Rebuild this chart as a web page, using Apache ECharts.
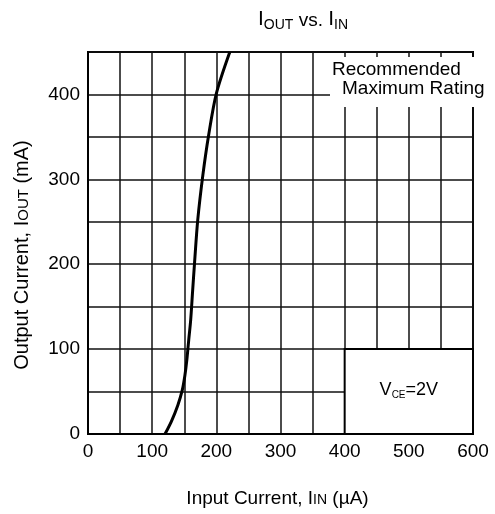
<!DOCTYPE html>
<html><head><meta charset="utf-8">
<script src="https://cdn.jsdelivr.net/npm/echarts@6/dist/echarts.min.js"></script>
<style>html,body{margin:0;padding:0;background:#fff}#c{width:495px;height:514px}</style>
</head><body><div id="c"></div>
<script>
// Data
const inputCurrent = [120, 130, 140, 147, 151, 154, 157, 160, 163, 166, 171, 179, 188, 200, 221];   // µA
const outputCurrent = [0, 15, 34, 52, 69, 87, 111, 134, 168, 201, 252, 305, 352, 401, 450];        // mA
const xTickLabels = [0, 100, 200, 300, 400, 500, 600];
const yTickLabels = [0, 100, 200, 300, 400];
const conditionBox = [400, 0, 600, 100]; // x1, y1, x2, y2 in data units

const FONT = 'Liberation Sans, Arial, sans-serif';
const chart = echarts.init(document.getElementById('c'), null, {renderer: 'canvas'});
const points = inputCurrent.map((x, i) => [x, outputCurrent[i]]);

chart.setOption({
  animation: false,
  backgroundColor: '#fff',
  title: {
    text: '{m|I}{s|OUT}{v| vs. }{m|I}{s|IN}',
    left: 253, top: 6,
    textStyle: {
      fontWeight: 'normal',
      rich: {
        m: {fontFamily: FONT, fontSize: 21, fontWeight: 'normal', color: '#000', verticalAlign: 'bottom', lineHeight: 21, padding: [0,0,2,0]},
        v: {fontFamily: FONT, fontSize: 19, fontWeight: 'normal', color: '#000', verticalAlign: 'bottom', lineHeight: 19, padding: [0,0,2,0]},
        s: {fontFamily: FONT, fontSize: 14, fontWeight: 'normal', color: '#000', verticalAlign: 'bottom', lineHeight: 14}
      }
    }
  },
  grid: {left: 88, right: 22, top: 52, bottom: 80, show: true, borderColor: '#000', borderWidth: 2, backgroundColor: 'transparent'},
  xAxis: {
    type: 'value', min: 0, max: 600, interval: 50,
    axisLine: {show: true, lineStyle: {color: '#000', width: 2}},
    axisTick: {show: false},
    splitLine: {show: true, lineStyle: {color: '#111', width: 1.5}},
    axisLabel: {
      color: '#000', fontFamily: FONT, fontSize: 19, margin: 8,
      formatter: v => xTickLabels.indexOf(v) >= 0 ? String(v) : ''
    },
    name: '{n|Input Current, I}{s|IN}{n| (µA)}',
    nameLocation: 'middle', nameGap: 55,
    nameTextStyle: {
      padding: [0, 6, 0, 0],
      rich: {
        n: {fontFamily: FONT, fontSize: 19, color: '#000', verticalAlign: 'bottom', lineHeight: 19},
        s: {fontFamily: FONT, fontSize: 14, color: '#000', verticalAlign: 'bottom', lineHeight: 14, padding: [0,0,1,0]}
      }
    }
  },
  yAxis: {
    type: 'value', min: 0, max: 450, interval: 50,
    axisLine: {show: true, lineStyle: {color: '#000', width: 2}},
    axisTick: {show: false},
    splitLine: {show: true, lineStyle: {color: '#111', width: 1.5}},
    axisLabel: {
      color: '#000', fontFamily: FONT, fontSize: 19, margin: 8,
      formatter: v => yTickLabels.indexOf(v) >= 0 ? String(v) : ''
    },
    name: '{n|Output Current, I}{s|OUT}{n| (mA)}',
    nameLocation: 'middle', nameGap: 56,
    nameTextStyle: {
      padding: [0, 24, 0, 0],
      rich: {
        n: {fontFamily: FONT, fontSize: 20, color: '#000', verticalAlign: 'bottom', lineHeight: 20},
        s: {fontFamily: FONT, fontSize: 15, color: '#000', verticalAlign: 'bottom', lineHeight: 15, padding: [0,0,1,0]}
      }
    }
  },
  series: [{
    type: 'line',
    data: points,
    smooth: 0.3,
    showSymbol: false,
    clip: true,
    lineStyle: {color: '#000', width: 3},
    z: 3,
    markArea: {
      silent: true,
      itemStyle: {color: '#fff', borderColor: '#000', borderWidth: 2, opacity: 1},
      label: {
        show: true, position: 'inside',
        formatter: '{v|V}{s|CE}{v|=2V}',
        rich: {
          v: {fontFamily: FONT, fontSize: 18, color: '#000', verticalAlign: 'bottom', lineHeight: 18, padding: [0,0,2,0]},
          s: {fontFamily: FONT, fontSize: 10, color: '#000', verticalAlign: 'bottom', lineHeight: 10}
        }
      },
      data: [[{xAxis: conditionBox[0], yAxis: conditionBox[1]}, {xAxis: conditionBox[2], yAxis: conditionBox[3]}]]
    }
  }],
  graphic: [
    {type: 'rect', shape: {x: 330, y: 57, width: 165, height: 50}, style: {fill: '#fff'}, z: 100},
    {type: 'text', x: 332, y: 70, style: {text: 'Recommended', font: '19px ' + FONT, fill: '#000', textVerticalAlign: 'middle'}, z: 101},
    {type: 'text', x: 342, y: 89, style: {text: 'Maximum Rating', font: '19px ' + FONT, fill: '#000', textVerticalAlign: 'middle'}, z: 101}
  ]
});
</script></body></html>
